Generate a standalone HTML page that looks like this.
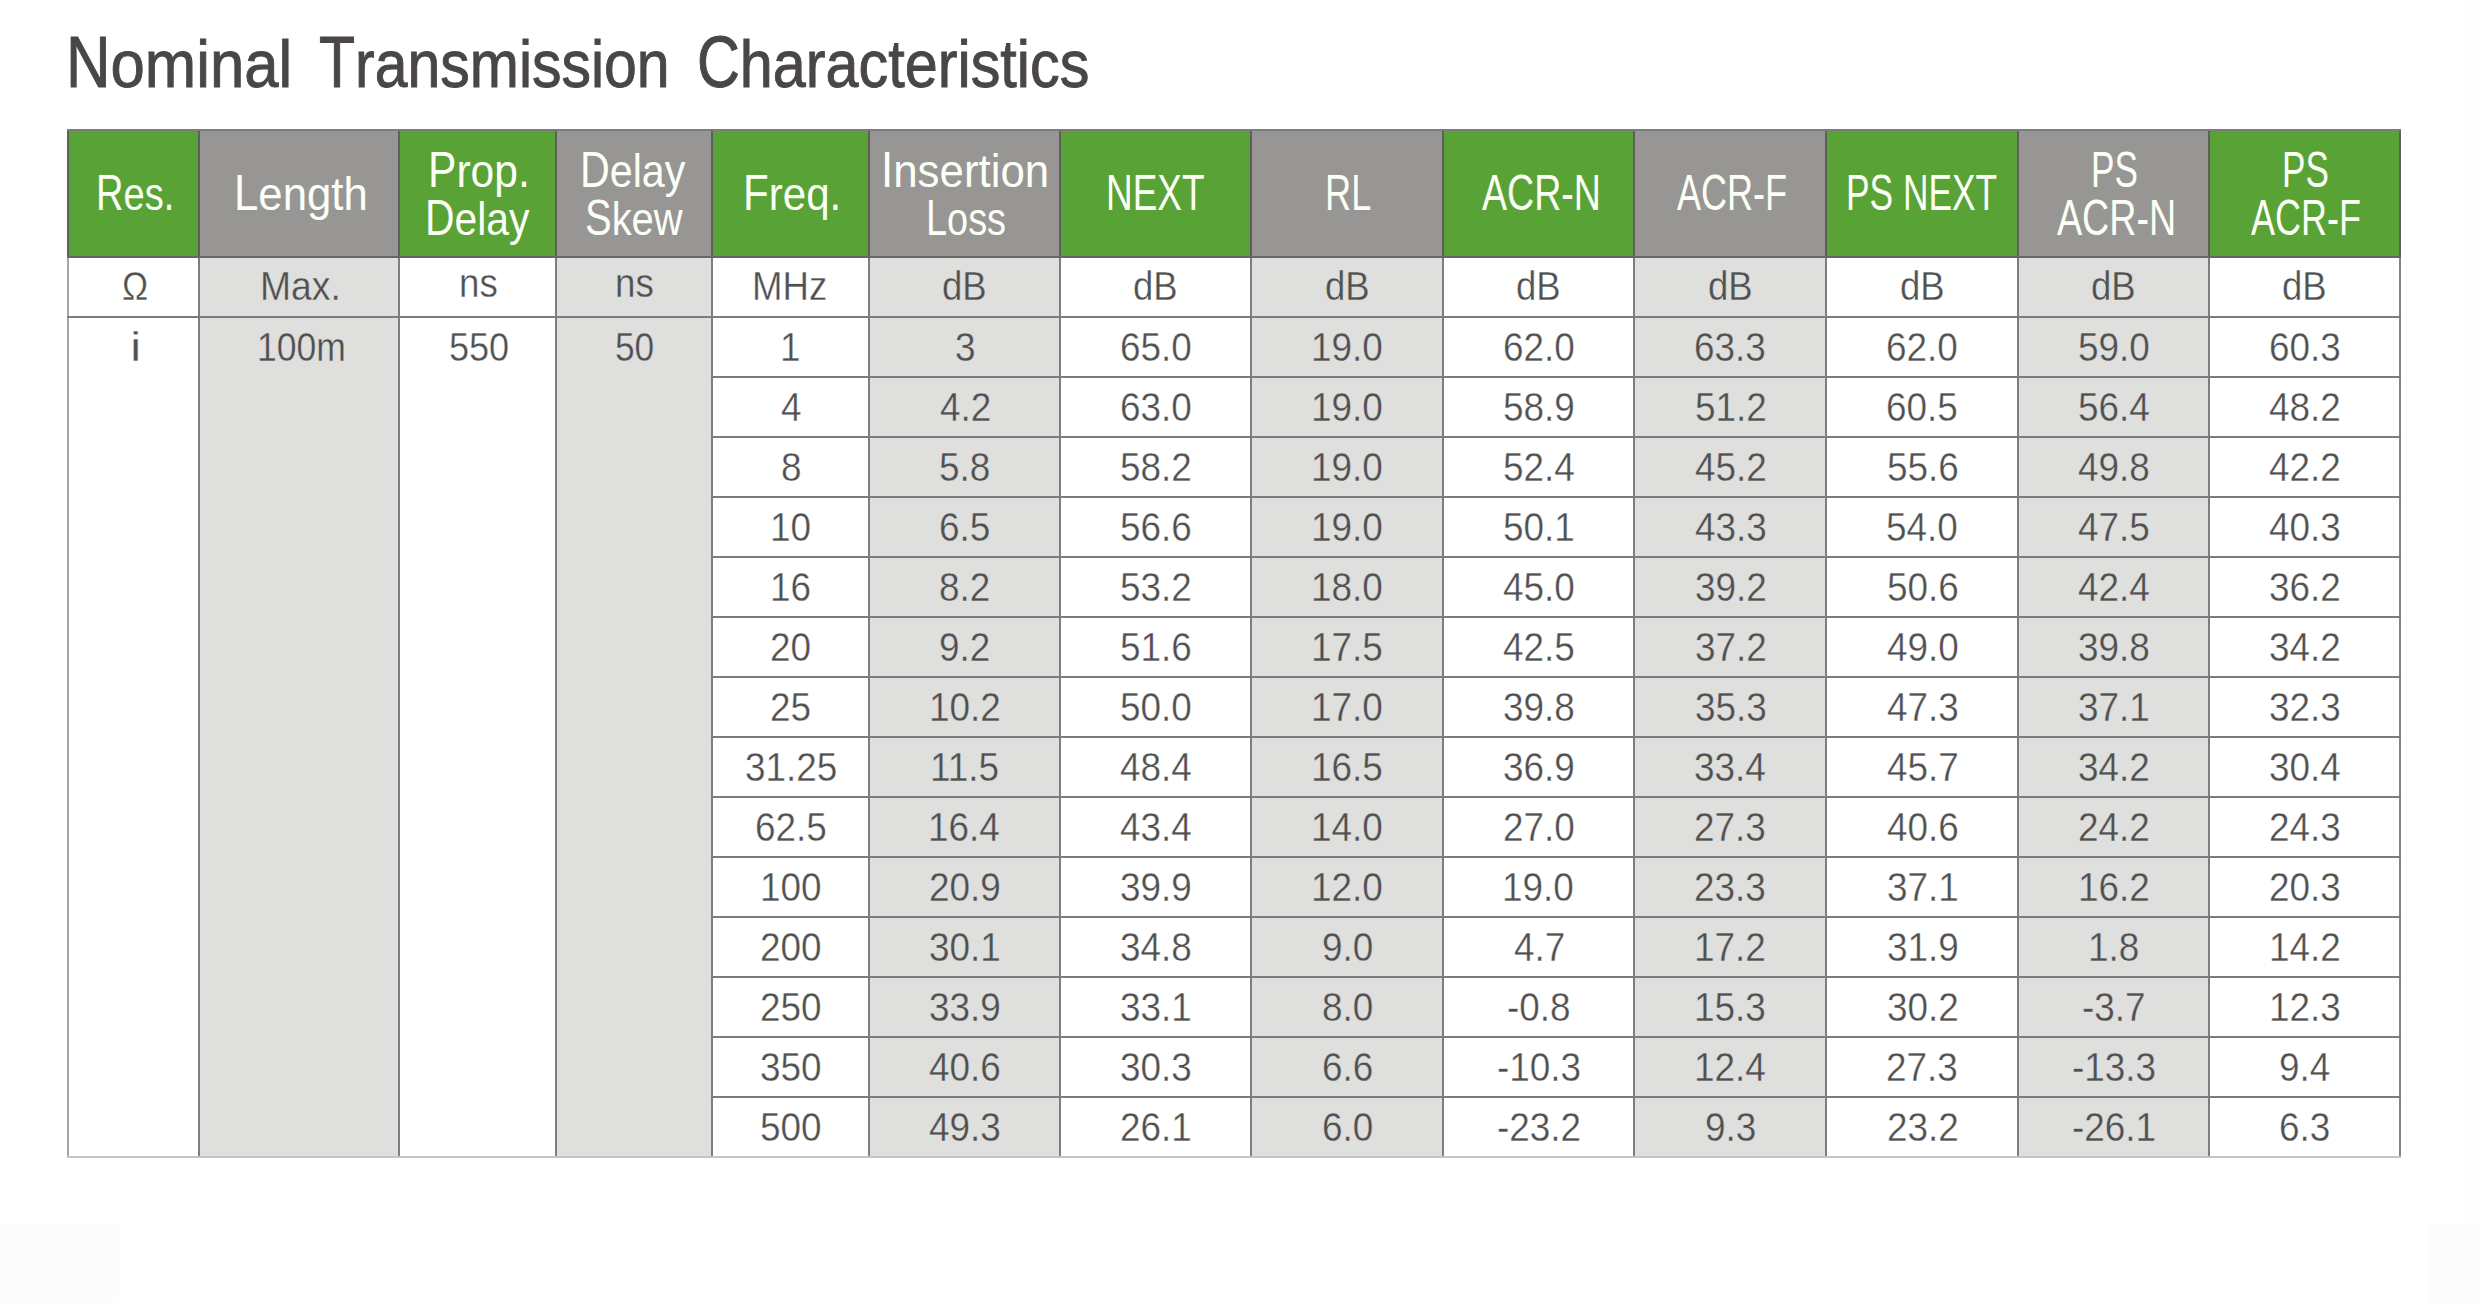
<!DOCTYPE html>
<html><head><meta charset="utf-8"><style>
html,body{margin:0;padding:0;background:#fff;}
body{width:2480px;height:1303px;position:relative;overflow:hidden;font-family:"Liberation Sans",sans-serif;}
#wrap{position:absolute;left:0;top:0;width:2480px;height:1303px;}
.r{position:absolute;}
.t{position:absolute;white-space:nowrap;line-height:1;transform-origin:0 0;}
.h{color:#fbfff6;font-size:50px;}
.b{color:#505050;font-size:41px;}
.w{-webkit-text-stroke:0.35px #fff;}
.g{-webkit-text-stroke:0.35px #dfdfde;}
</style></head><body>

<div id="wrap">
<div class="r" style="left:0;top:1224px;width:119px;height:79px;background:#fcfcfc"></div>
<div class="r" style="left:2465px;top:0;width:15px;height:1303px;background:#fdfdfd"></div>
<div class="r" style="left:2427px;top:1224px;width:53px;height:79px;background:#fcfcfc"></div>
<div class="r" style="left:68px;top:129.6px;width:131px;height:126.9px;background:#59a336"></div>
<div class="r" style="left:199px;top:129.6px;width:200px;height:126.9px;background:#979695"></div>
<div class="r" style="left:199px;top:256.5px;width:200px;height:900.6800000000001px;background:#dfdfde"></div>
<div class="r" style="left:399px;top:129.6px;width:157px;height:126.9px;background:#59a336"></div>
<div class="r" style="left:556px;top:129.6px;width:156px;height:126.9px;background:#979695"></div>
<div class="r" style="left:556px;top:256.5px;width:156px;height:900.6800000000001px;background:#dfdfde"></div>
<div class="r" style="left:712px;top:129.6px;width:157px;height:126.9px;background:#59a336"></div>
<div class="r" style="left:869px;top:129.6px;width:191px;height:126.9px;background:#979695"></div>
<div class="r" style="left:869px;top:256.5px;width:191px;height:900.6800000000001px;background:#dfdfde"></div>
<div class="r" style="left:1060px;top:129.6px;width:191px;height:126.9px;background:#59a336"></div>
<div class="r" style="left:1251px;top:129.6px;width:192px;height:126.9px;background:#979695"></div>
<div class="r" style="left:1251px;top:256.5px;width:192px;height:900.6800000000001px;background:#dfdfde"></div>
<div class="r" style="left:1443px;top:129.6px;width:191px;height:126.9px;background:#59a336"></div>
<div class="r" style="left:1634px;top:129.6px;width:192px;height:126.9px;background:#979695"></div>
<div class="r" style="left:1634px;top:256.5px;width:192px;height:900.6800000000001px;background:#dfdfde"></div>
<div class="r" style="left:1826px;top:129.6px;width:192px;height:126.9px;background:#59a336"></div>
<div class="r" style="left:2018px;top:129.6px;width:191px;height:126.9px;background:#979695"></div>
<div class="r" style="left:2018px;top:256.5px;width:191px;height:900.6800000000001px;background:#dfdfde"></div>
<div class="r" style="left:2209px;top:129.6px;width:191px;height:126.9px;background:#59a336"></div>
<div class="r" style="left:198.0px;top:128.6px;width:2px;height:128.9px;background:#5e5e5e"></div>
<div class="r" style="left:398.0px;top:128.6px;width:2px;height:128.9px;background:#5e5e5e"></div>
<div class="r" style="left:555.0px;top:128.6px;width:2px;height:128.9px;background:#5e5e5e"></div>
<div class="r" style="left:711.0px;top:128.6px;width:2px;height:128.9px;background:#5e5e5e"></div>
<div class="r" style="left:868.0px;top:128.6px;width:2px;height:128.9px;background:#5e5e5e"></div>
<div class="r" style="left:1059.0px;top:128.6px;width:2px;height:128.9px;background:#5e5e5e"></div>
<div class="r" style="left:1250.0px;top:128.6px;width:2px;height:128.9px;background:#5e5e5e"></div>
<div class="r" style="left:1442.0px;top:128.6px;width:2px;height:128.9px;background:#5e5e5e"></div>
<div class="r" style="left:1633.0px;top:128.6px;width:2px;height:128.9px;background:#5e5e5e"></div>
<div class="r" style="left:1825.0px;top:128.6px;width:2px;height:128.9px;background:#5e5e5e"></div>
<div class="r" style="left:2017.0px;top:128.6px;width:2px;height:128.9px;background:#5e5e5e"></div>
<div class="r" style="left:2208.0px;top:128.6px;width:2px;height:128.9px;background:#5e5e5e"></div>
<div class="r" style="left:67.0px;top:128.6px;width:2px;height:128.9px;background:#5e5e5e"></div>
<div class="r" style="left:2399.0px;top:128.6px;width:2px;height:128.9px;background:#5e5e5e"></div>
<div class="r" style="left:198.0px;top:255.5px;width:2px;height:902.6800000000001px;background:#7e7e7e"></div>
<div class="r" style="left:398.0px;top:255.5px;width:2px;height:902.6800000000001px;background:#7e7e7e"></div>
<div class="r" style="left:555.0px;top:255.5px;width:2px;height:902.6800000000001px;background:#7e7e7e"></div>
<div class="r" style="left:711.0px;top:255.5px;width:2px;height:902.6800000000001px;background:#7e7e7e"></div>
<div class="r" style="left:868.0px;top:255.5px;width:2px;height:902.6800000000001px;background:#7e7e7e"></div>
<div class="r" style="left:1059.0px;top:255.5px;width:2px;height:902.6800000000001px;background:#7e7e7e"></div>
<div class="r" style="left:1250.0px;top:255.5px;width:2px;height:902.6800000000001px;background:#7e7e7e"></div>
<div class="r" style="left:1442.0px;top:255.5px;width:2px;height:902.6800000000001px;background:#7e7e7e"></div>
<div class="r" style="left:1633.0px;top:255.5px;width:2px;height:902.6800000000001px;background:#7e7e7e"></div>
<div class="r" style="left:1825.0px;top:255.5px;width:2px;height:902.6800000000001px;background:#7e7e7e"></div>
<div class="r" style="left:2017.0px;top:255.5px;width:2px;height:902.6800000000001px;background:#7e7e7e"></div>
<div class="r" style="left:2208.0px;top:255.5px;width:2px;height:902.6800000000001px;background:#7e7e7e"></div>
<div class="r" style="left:67.0px;top:255.5px;width:2px;height:902.6800000000001px;background:#a6a6a6"></div>
<div class="r" style="left:2399.0px;top:255.5px;width:2px;height:902.6800000000001px;background:#848484"></div>
<div class="r" style="left:67.0px;top:128.6px;width:2334px;height:2px;background:#7c7c7c"></div>
<div class="r" style="left:67.0px;top:255.5px;width:2334px;height:2px;background:#666666"></div>
<div class="r" style="left:67.0px;top:315.9px;width:2334px;height:2px;background:#7c7c7c"></div>
<div class="r" style="left:711.0px;top:375.91999999999996px;width:1690px;height:2px;background:#7c7c7c"></div>
<div class="r" style="left:711.0px;top:435.94px;width:1690px;height:2px;background:#7c7c7c"></div>
<div class="r" style="left:711.0px;top:495.96px;width:1690px;height:2px;background:#7c7c7c"></div>
<div class="r" style="left:711.0px;top:555.98px;width:1690px;height:2px;background:#7c7c7c"></div>
<div class="r" style="left:711.0px;top:616.0px;width:1690px;height:2px;background:#7c7c7c"></div>
<div class="r" style="left:711.0px;top:676.02px;width:1690px;height:2px;background:#7c7c7c"></div>
<div class="r" style="left:711.0px;top:736.04px;width:1690px;height:2px;background:#7c7c7c"></div>
<div class="r" style="left:711.0px;top:796.06px;width:1690px;height:2px;background:#7c7c7c"></div>
<div class="r" style="left:711.0px;top:856.08px;width:1690px;height:2px;background:#7c7c7c"></div>
<div class="r" style="left:711.0px;top:916.1px;width:1690px;height:2px;background:#7c7c7c"></div>
<div class="r" style="left:711.0px;top:976.12px;width:1690px;height:2px;background:#7c7c7c"></div>
<div class="r" style="left:711.0px;top:1036.1399999999999px;width:1690px;height:2px;background:#7c7c7c"></div>
<div class="r" style="left:711.0px;top:1096.1599999999999px;width:1690px;height:2px;background:#7c7c7c"></div>
<div class="r" style="left:67.0px;top:1156.18px;width:2334px;height:2px;background:#c4c4c4"></div>
<div class="t h" style="left:96.26px;top:167.70px;transform:scaleX(0.7612);">R<span style="display:inline-block;transform:scaleY(0.935);transform-origin:0 42.00px">es</span>.</div>
<div class="t h" style="left:233.50px;top:167.70px;transform:scaleX(0.8747);">L<span style="display:inline-block;transform:scaleY(0.935);transform-origin:0 42.00px">ength</span></div>
<div class="t h" style="left:427.79px;top:144.50px;transform:scaleX(0.8517);">P<span style="display:inline-block;transform:scaleY(0.935);transform-origin:0 42.00px">rop</span>.</div>
<div class="t h" style="left:425.43px;top:192.90px;transform:scaleX(0.8175);">D<span style="display:inline-block;transform:scaleY(0.935);transform-origin:0 42.00px">elay</span></div>
<div class="t h" style="left:580.30px;top:144.50px;transform:scaleX(0.8247);">D<span style="display:inline-block;transform:scaleY(0.935);transform-origin:0 42.00px">elay</span></div>
<div class="t h" style="left:584.68px;top:192.90px;transform:scaleX(0.7989);">S<span style="display:inline-block;transform:scaleY(0.935);transform-origin:0 42.00px">kew</span></div>
<div class="t h" style="left:743.13px;top:167.70px;transform:scaleX(0.8420);">F<span style="display:inline-block;transform:scaleY(0.935);transform-origin:0 42.00px">req</span>.</div>
<div class="t h" style="left:880.95px;top:144.50px;transform:scaleX(0.8770);">I<span style="display:inline-block;transform:scaleY(0.935);transform-origin:0 42.00px">nsertion</span></div>
<div class="t h" style="left:925.57px;top:192.90px;transform:scaleX(0.7580);">L<span style="display:inline-block;transform:scaleY(0.935);transform-origin:0 42.00px">oss</span></div>
<div class="t h" style="left:1106.14px;top:167.70px;transform:scaleX(0.7390);">NEXT</div>
<div class="t h" style="left:1324.90px;top:167.70px;transform:scaleX(0.7241);">RL</div>
<div class="t h" style="left:1482.10px;top:167.70px;transform:scaleX(0.7506);">ACR-N</div>
<div class="t h" style="left:1676.90px;top:167.70px;transform:scaleX(0.7205);">ACR-F</div>
<div class="t h" style="left:1845.78px;top:167.70px;transform:scaleX(0.7062);">PS NEXT</div>
<div class="t h" style="left:2091.39px;top:144.50px;transform:scaleX(0.7035);">PS</div>
<div class="t h" style="left:2056.70px;top:192.90px;transform:scaleX(0.7532);">ACR-N</div>
<div class="t h" style="left:2282.19px;top:144.50px;transform:scaleX(0.7019);">PS</div>
<div class="t h" style="left:2250.90px;top:192.90px;transform:scaleX(0.7199);">ACR-F</div>
<div class="t b w" style="left:121.64px;top:266.10px;transform:scaleX(0.8546);">Ω</div>
<div class="t b g" style="left:259.93px;top:266.10px;transform:scaleX(0.9096);">Max.</div>
<div class="t b w" style="left:458.55px;top:262.80px;transform:scaleX(0.8951);">ns</div>
<div class="t b g" style="left:614.65px;top:262.80px;transform:scaleX(0.8951);">ns</div>
<div class="t b w" style="left:751.89px;top:266.10px;transform:scaleX(0.8930);">MHz</div>
<div class="t b g" style="left:942.28px;top:266.10px;transform:scaleX(0.8906);">dB</div>
<div class="t b w" style="left:1133.28px;top:266.10px;transform:scaleX(0.8906);">dB</div>
<div class="t b g" style="left:1324.78px;top:266.10px;transform:scaleX(0.8906);">dB</div>
<div class="t b w" style="left:1516.28px;top:266.10px;transform:scaleX(0.8906);">dB</div>
<div class="t b g" style="left:1707.78px;top:266.10px;transform:scaleX(0.8906);">dB</div>
<div class="t b w" style="left:1899.78px;top:266.10px;transform:scaleX(0.8906);">dB</div>
<div class="t b g" style="left:2091.28px;top:266.10px;transform:scaleX(0.8906);">dB</div>
<div class="t b w" style="left:2282.28px;top:266.10px;transform:scaleX(0.8906);">dB</div>
<div class="t b w" style="left:130.08px;top:326.50px;transform:scaleX(1.2446);">i</div>
<div class="t b g" style="left:257.14px;top:326.50px;transform:scaleX(0.8666);">100m</div>
<div class="t b w" style="left:448.63px;top:326.50px;transform:scaleX(0.8798);">550</div>
<div class="t b g" style="left:614.67px;top:326.50px;transform:scaleX(0.8601);">50</div>
<div class="t b w" style="left:780.20px;top:326.50px;transform:scaleX(0.9000);">1</div>
<div class="t b g" style="left:954.67px;top:326.50px;transform:scaleX(0.9000);">3</div>
<div class="t b w" style="left:1119.93px;top:326.50px;transform:scaleX(0.9000);">65.0</div>
<div class="t b g" style="left:1310.98px;top:326.50px;transform:scaleX(0.9000);">19.0</div>
<div class="t b w" style="left:1502.93px;top:326.50px;transform:scaleX(0.9000);">62.0</div>
<div class="t b g" style="left:1694.47px;top:326.50px;transform:scaleX(0.9000);">63.3</div>
<div class="t b w" style="left:1886.43px;top:326.50px;transform:scaleX(0.9000);">62.0</div>
<div class="t b g" style="left:2077.96px;top:326.50px;transform:scaleX(0.9000);">59.0</div>
<div class="t b w" style="left:2268.97px;top:326.50px;transform:scaleX(0.9000);">60.3</div>
<div class="t b w" style="left:780.95px;top:386.57px;transform:scaleX(0.9000);">4</div>
<div class="t b g" style="left:939.80px;top:386.57px;transform:scaleX(0.9000);">4.2</div>
<div class="t b w" style="left:1119.93px;top:386.57px;transform:scaleX(0.9000);">63.0</div>
<div class="t b g" style="left:1310.98px;top:386.57px;transform:scaleX(0.9000);">19.0</div>
<div class="t b w" style="left:1503.01px;top:386.57px;transform:scaleX(0.9000);">58.9</div>
<div class="t b g" style="left:1694.52px;top:386.57px;transform:scaleX(0.9000);">51.2</div>
<div class="t b w" style="left:1886.46px;top:386.57px;transform:scaleX(0.9000);">60.5</div>
<div class="t b g" style="left:2077.84px;top:386.57px;transform:scaleX(0.9000);">56.4</div>
<div class="t b w" style="left:2269.47px;top:386.57px;transform:scaleX(0.9000);">48.2</div>
<div class="t b w" style="left:780.67px;top:446.64px;transform:scaleX(0.9000);">8</div>
<div class="t b g" style="left:939.29px;top:446.64px;transform:scaleX(0.9000);">5.8</div>
<div class="t b w" style="left:1120.02px;top:446.64px;transform:scaleX(0.9000);">58.2</div>
<div class="t b g" style="left:1310.98px;top:446.64px;transform:scaleX(0.9000);">19.0</div>
<div class="t b w" style="left:1502.84px;top:446.64px;transform:scaleX(0.9000);">52.4</div>
<div class="t b g" style="left:1694.97px;top:446.64px;transform:scaleX(0.9000);">45.2</div>
<div class="t b w" style="left:1886.50px;top:446.64px;transform:scaleX(0.9000);">55.6</div>
<div class="t b g" style="left:2078.45px;top:446.64px;transform:scaleX(0.9000);">49.8</div>
<div class="t b w" style="left:2269.47px;top:446.64px;transform:scaleX(0.9000);">42.2</div>
<div class="t b w" style="left:769.83px;top:506.71px;transform:scaleX(0.9000);">10</div>
<div class="t b g" style="left:939.26px;top:506.71px;transform:scaleX(0.9000);">6.5</div>
<div class="t b w" style="left:1120.00px;top:506.71px;transform:scaleX(0.9000);">56.6</div>
<div class="t b g" style="left:1310.98px;top:506.71px;transform:scaleX(0.9000);">19.0</div>
<div class="t b w" style="left:1503.02px;top:506.71px;transform:scaleX(0.9000);">50.1</div>
<div class="t b g" style="left:1694.95px;top:506.71px;transform:scaleX(0.9000);">43.3</div>
<div class="t b w" style="left:1886.46px;top:506.71px;transform:scaleX(0.9000);">54.0</div>
<div class="t b g" style="left:2078.43px;top:506.71px;transform:scaleX(0.9000);">47.5</div>
<div class="t b w" style="left:2269.45px;top:506.71px;transform:scaleX(0.9000);">40.3</div>
<div class="t b w" style="left:769.85px;top:566.78px;transform:scaleX(0.9000);">16</div>
<div class="t b g" style="left:939.37px;top:566.78px;transform:scaleX(0.9000);">8.2</div>
<div class="t b w" style="left:1120.02px;top:566.78px;transform:scaleX(0.9000);">53.2</div>
<div class="t b g" style="left:1310.98px;top:566.78px;transform:scaleX(0.9000);">18.0</div>
<div class="t b w" style="left:1503.41px;top:566.78px;transform:scaleX(0.9000);">45.0</div>
<div class="t b g" style="left:1694.55px;top:566.78px;transform:scaleX(0.9000);">39.2</div>
<div class="t b w" style="left:1886.50px;top:566.78px;transform:scaleX(0.9000);">50.6</div>
<div class="t b g" style="left:2078.30px;top:566.78px;transform:scaleX(0.9000);">42.4</div>
<div class="t b w" style="left:2269.05px;top:566.78px;transform:scaleX(0.9000);">36.2</div>
<div class="t b w" style="left:770.28px;top:626.85px;transform:scaleX(0.9000);">20</div>
<div class="t b g" style="left:939.34px;top:626.85px;transform:scaleX(0.9000);">9.2</div>
<div class="t b w" style="left:1120.00px;top:626.85px;transform:scaleX(0.9000);">51.6</div>
<div class="t b g" style="left:1311.01px;top:626.85px;transform:scaleX(0.9000);">17.5</div>
<div class="t b w" style="left:1503.43px;top:626.85px;transform:scaleX(0.9000);">42.5</div>
<div class="t b g" style="left:1694.55px;top:626.85px;transform:scaleX(0.9000);">37.2</div>
<div class="t b w" style="left:1886.91px;top:626.85px;transform:scaleX(0.9000);">49.0</div>
<div class="t b g" style="left:2078.02px;top:626.85px;transform:scaleX(0.9000);">39.8</div>
<div class="t b w" style="left:2269.05px;top:626.85px;transform:scaleX(0.9000);">34.2</div>
<div class="t b w" style="left:770.30px;top:686.92px;transform:scaleX(0.9000);">25</div>
<div class="t b g" style="left:928.55px;top:686.92px;transform:scaleX(0.9000);">10.2</div>
<div class="t b w" style="left:1119.96px;top:686.92px;transform:scaleX(0.9000);">50.0</div>
<div class="t b g" style="left:1310.98px;top:686.92px;transform:scaleX(0.9000);">17.0</div>
<div class="t b w" style="left:1503.02px;top:686.92px;transform:scaleX(0.9000);">39.8</div>
<div class="t b g" style="left:1694.52px;top:686.92px;transform:scaleX(0.9000);">35.3</div>
<div class="t b w" style="left:1886.95px;top:686.92px;transform:scaleX(0.9000);">47.3</div>
<div class="t b g" style="left:2078.05px;top:686.92px;transform:scaleX(0.9000);">37.1</div>
<div class="t b w" style="left:2269.02px;top:686.92px;transform:scaleX(0.9000);">32.3</div>
<div class="t b w" style="left:744.70px;top:746.99px;transform:scaleX(0.9000);">31.25</div>
<div class="t b g" style="left:929.86px;top:746.99px;transform:scaleX(0.9000);">11.5</div>
<div class="t b w" style="left:1120.30px;top:746.99px;transform:scaleX(0.9000);">48.4</div>
<div class="t b g" style="left:1311.01px;top:746.99px;transform:scaleX(0.9000);">16.5</div>
<div class="t b w" style="left:1503.04px;top:746.99px;transform:scaleX(0.9000);">36.9</div>
<div class="t b g" style="left:1694.37px;top:746.99px;transform:scaleX(0.9000);">33.4</div>
<div class="t b w" style="left:1886.97px;top:746.99px;transform:scaleX(0.9000);">45.7</div>
<div class="t b g" style="left:2078.05px;top:746.99px;transform:scaleX(0.9000);">34.2</div>
<div class="t b w" style="left:2268.87px;top:746.99px;transform:scaleX(0.9000);">30.4</div>
<div class="t b w" style="left:754.96px;top:807.06px;transform:scaleX(0.9000);">62.5</div>
<div class="t b g" style="left:928.37px;top:807.06px;transform:scaleX(0.9000);">16.4</div>
<div class="t b w" style="left:1120.30px;top:807.06px;transform:scaleX(0.9000);">43.4</div>
<div class="t b g" style="left:1310.98px;top:807.06px;transform:scaleX(0.9000);">14.0</div>
<div class="t b w" style="left:1502.94px;top:807.06px;transform:scaleX(0.9000);">27.0</div>
<div class="t b g" style="left:1694.48px;top:807.06px;transform:scaleX(0.9000);">27.3</div>
<div class="t b w" style="left:1886.95px;top:807.06px;transform:scaleX(0.9000);">40.6</div>
<div class="t b g" style="left:2078.01px;top:807.06px;transform:scaleX(0.9000);">24.2</div>
<div class="t b w" style="left:2268.98px;top:807.06px;transform:scaleX(0.9000);">24.3</div>
<div class="t b w" style="left:759.51px;top:867.13px;transform:scaleX(0.9000);">100</div>
<div class="t b g" style="left:928.99px;top:867.13px;transform:scaleX(0.9000);">20.9</div>
<div class="t b w" style="left:1120.04px;top:867.13px;transform:scaleX(0.9000);">39.9</div>
<div class="t b g" style="left:1310.98px;top:867.13px;transform:scaleX(0.9000);">12.0</div>
<div class="t b w" style="left:1502.48px;top:867.13px;transform:scaleX(0.9000);">19.0</div>
<div class="t b g" style="left:1694.48px;top:867.13px;transform:scaleX(0.9000);">23.3</div>
<div class="t b w" style="left:1886.55px;top:867.13px;transform:scaleX(0.9000);">37.1</div>
<div class="t b g" style="left:2077.55px;top:867.13px;transform:scaleX(0.9000);">16.2</div>
<div class="t b w" style="left:2268.98px;top:867.13px;transform:scaleX(0.9000);">20.3</div>
<div class="t b w" style="left:759.97px;top:927.20px;transform:scaleX(0.9000);">200</div>
<div class="t b g" style="left:929.05px;top:927.20px;transform:scaleX(0.9000);">30.1</div>
<div class="t b w" style="left:1120.02px;top:927.20px;transform:scaleX(0.9000);">34.8</div>
<div class="t b g" style="left:1321.74px;top:927.20px;transform:scaleX(0.9000);">9.0</div>
<div class="t b w" style="left:1513.80px;top:927.20px;transform:scaleX(0.9000);">4.7</div>
<div class="t b g" style="left:1694.05px;top:927.20px;transform:scaleX(0.9000);">17.2</div>
<div class="t b w" style="left:1886.54px;top:927.20px;transform:scaleX(0.9000);">31.9</div>
<div class="t b g" style="left:2087.82px;top:927.20px;transform:scaleX(0.9000);">1.8</div>
<div class="t b w" style="left:2268.55px;top:927.20px;transform:scaleX(0.9000);">14.2</div>
<div class="t b w" style="left:759.97px;top:987.27px;transform:scaleX(0.9000);">250</div>
<div class="t b g" style="left:929.04px;top:987.27px;transform:scaleX(0.9000);">33.9</div>
<div class="t b w" style="left:1120.05px;top:987.27px;transform:scaleX(0.9000);">33.1</div>
<div class="t b g" style="left:1321.77px;top:987.27px;transform:scaleX(0.9000);">8.0</div>
<div class="t b w" style="left:1507.09px;top:987.27px;transform:scaleX(0.9000);">-0.8</div>
<div class="t b g" style="left:1694.02px;top:987.27px;transform:scaleX(0.9000);">15.3</div>
<div class="t b w" style="left:1886.55px;top:987.27px;transform:scaleX(0.9000);">30.2</div>
<div class="t b g" style="left:2082.39px;top:987.27px;transform:scaleX(0.9000);">-3.7</div>
<div class="t b w" style="left:2268.52px;top:987.27px;transform:scaleX(0.9000);">12.3</div>
<div class="t b w" style="left:760.01px;top:1047.34px;transform:scaleX(0.9000);">350</div>
<div class="t b g" style="left:929.45px;top:1047.34px;transform:scaleX(0.9000);">40.6</div>
<div class="t b w" style="left:1120.02px;top:1047.34px;transform:scaleX(0.9000);">30.3</div>
<div class="t b g" style="left:1321.77px;top:1047.34px;transform:scaleX(0.9000);">6.6</div>
<div class="t b w" style="left:1496.74px;top:1047.34px;transform:scaleX(0.9000);">-10.3</div>
<div class="t b g" style="left:1693.87px;top:1047.34px;transform:scaleX(0.9000);">12.4</div>
<div class="t b w" style="left:1886.48px;top:1047.34px;transform:scaleX(0.9000);">27.3</div>
<div class="t b g" style="left:2071.74px;top:1047.34px;transform:scaleX(0.9000);">-13.3</div>
<div class="t b w" style="left:2278.91px;top:1047.34px;transform:scaleX(0.9000);">9.4</div>
<div class="t b w" style="left:759.98px;top:1107.41px;transform:scaleX(0.9000);">500</div>
<div class="t b g" style="left:929.45px;top:1107.41px;transform:scaleX(0.9000);">49.3</div>
<div class="t b w" style="left:1120.00px;top:1107.41px;transform:scaleX(0.9000);">26.1</div>
<div class="t b g" style="left:1321.72px;top:1107.41px;transform:scaleX(0.9000);">6.0</div>
<div class="t b w" style="left:1497.04px;top:1107.41px;transform:scaleX(0.9000);">-23.2</div>
<div class="t b g" style="left:1704.80px;top:1107.41px;transform:scaleX(0.9000);">9.3</div>
<div class="t b w" style="left:1886.51px;top:1107.41px;transform:scaleX(0.9000);">23.2</div>
<div class="t b g" style="left:2072.03px;top:1107.41px;transform:scaleX(0.9000);">-26.1</div>
<div class="t b w" style="left:2279.28px;top:1107.41px;transform:scaleX(0.9000);">6.3</div>
<div class="t t" style="left:65.92px;top:26.00px;transform:scaleX(0.8565);font-size:72px;color:#4a4648;-webkit-text-stroke:1.0px #4a4648">N<span style="display:inline-block;transform:scaleY(0.935);transform-origin:0 61.00px">ominal</span></div>
<div class="t t" style="left:319.18px;top:26.00px;transform:scaleX(0.8191);font-size:72px;color:#4a4648;-webkit-text-stroke:1.0px #4a4648">T<span style="display:inline-block;transform:scaleY(0.935);transform-origin:0 61.00px">ransmission</span></div>
<div class="t t" style="left:697.33px;top:26.00px;transform:scaleX(0.8240);font-size:72px;color:#4a4648;-webkit-text-stroke:1.0px #4a4648">C<span style="display:inline-block;transform:scaleY(0.935);transform-origin:0 61.00px">haracteristics</span></div>
</div></body></html>
